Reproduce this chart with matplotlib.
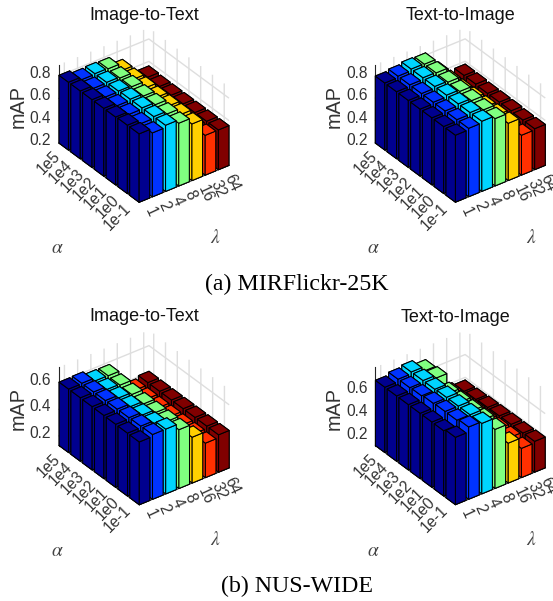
import numpy as np
import matplotlib
matplotlib.use('Agg')
import matplotlib.pyplot as plt
from mpl_toolkits.mplot3d import proj3d

W, H = 553, 601
lambdas = ['1', '2', '4', '8', '16', '32', '64']
alphas = ['1e-1', '1e0', '1e1', '1e2', '1e3', '1e4', '1e5']
colors = ['#00008f', '#0033ff', '#00d5ff', '#80ff80', '#ffd000', '#ff3000', '#800000']

# rows follow alphas (1e-1 ... 1e5), columns follow lambdas
mir_i2t = [[.81, .77, .79, .76, .705, .555, .555],
           [.81, .775, .79, .765, .71, .555, .555],
           [.805, .78, .79, .77, .71, .555, .555],
           [.805, .78, .79, .77, .71, .555, .555],
           [.805, .78, .785, .775, .715, .555, .555],
           [.805, .78, .785, .775, .715, .555, .555],
           [.805, .78, .785, .78, .715, .555, .56]]
mir_t2i = [[.797, .81, .825, .80, .71, .555, .565],
           [.797, .81, .825, .80, .705, .555, .565],
           [.797, .81, .825, .805, .70, .555, .57],
           [.797, .81, .825, .81, .70, .555, .57],
           [.797, .81, .825, .815, .695, .555, .57],
           [.797, .81, .825, .82, .695, .555, .575],
           [.797, .81, .825, .82, .69, .555, .575]]
nus_i2t = [[.598, .613, .613, .568, .471, .386, .408],
           [.599, .611, .591, .566, .436, .391, .408],
           [.600, .609, .588, .566, .426, .391, .408],
           [.601, .608, .586, .566, .426, .391, .408],
           [.602, .607, .586, .571, .426, .391, .408],
           [.603, .606, .584, .576, .426, .391, .408],
           [.603, .606, .583, .581, .426, .391, .408]]
nus_t2i = [[.715, .758, .742, .642, .474, .381, .395],
           [.697, .742, .742, .652, .41, .40, .392],
           [.697, .742, .742, .652, .40, .40, .392],
           [.697, .737, .742, .652, .39, .40, .39],
           [.697, .727, .737, .652, .39, .40, .388],
           [.697, .722, .737, .712, .39, .40, .382],
           [.697, .72, .736, .698, .39, .40, .377]]

panels = [
    dict(v=mir_i2t, t='Image-to-Text', zl=(0.2, 0.9), zt=[.2, .4, .6, .8], corners=[(59, 143.5), (139, 202), (229, 165)],
         tc=(144, 16), m=(18, 106), a=(57, 248), l=(215, 238)),
    dict(v=mir_t2i, t='Text-to-Image', zl=(0.2, 0.9), zt=[.2, .4, .6, .8], corners=[(375.3, 143.3), (456, 202), (545.3, 165)],
         tc=(460, 15), m=(334, 106), a=(373, 248), l=(531, 238)),
    dict(v=nus_i2t, t='Image-to-Text', zl=(0.128, 0.716), zt=[.2, .4, .6], corners=[(59, 446.7), (139.3, 504.3), (229.3, 466.7)],
         tc=(144, 316.7), m=(18, 408), a=(57, 551), l=(215, 540)),
    dict(v=nus_t2i, t='Text-to-Image', zl=(0.125, 0.812), zt=[.2, .4, .6], corners=[(375.3, 446.7), (456, 504.3), (545.3, 466.7)],
         tc=(455, 317), m=(334, 408), a=(373, 551), l=(531, 540)),
]

plt.rcParams['font.family'] = 'Liberation Sans'
plt.rcParams['mathtext.fontset'] = 'stix'
fig = plt.figure(figsize=(W / 100, H / 100), dpi=100)
GREY = '#333333'


def ftext(p, s, **kw):
    fig.text(p[0] / W, 1 - p[1] / H, s, ha='center', va='center', **kw)


def display(ax, x, y, z):
    px, py, _ = proj3d.proj_transform(x, y, z, ax.get_proj())
    return np.array(ax.transData.transform((px, py)))


for p in panels:
    ax = fig.add_axes([0.1, 0.1, 0.4, 0.4], projection='3d', proj_type='ortho', computed_zorder=False)
    ax.view_init(elev=33.4, azim=-126.7)
    ax.set_box_aspect((112, 134, 94), zoom=1)
    vals = np.array(p['v'])
    z0 = p['zl'][0]
    w = 0.8
    order = 0
    for j in range(6, -1, -1):
        for i in range(6, -1, -1):
            ax.bar3d(j - w / 2, i - w / 2, z0, w, w, vals[i, j] - z0, color=colors[j], shade=False,
                     edgecolor='black', linewidth=0.75, zorder=10 + order)
            order += 1
    ax.set_xlim(-0.4, 6.4)
    ax.set_ylim(-0.4, 6.4)
    ax.set_zlim(*p['zl'])
    ax.set_xticks(range(7))
    ax.set_yticks(range(7))
    ax.set_zticks(p['zt'])
    ax.set_xticklabels(lambdas, rotation=-65, ha='left', va='center', rotation_mode='anchor', fontsize=11.2, color=GREY)
    ax.set_yticklabels(alphas, rotation=45, ha='right', va='center', rotation_mode='anchor', fontsize=11.2, color=GREY)
    ax.set_zticklabels(['%.1f' % t for t in p['zt']], fontsize=11.2, color=GREY, ha='center', va='center')
    ax.tick_params(axis='x', pad=-4)
    ax.tick_params(axis='y', pad=-3.5)
    ax.tick_params(axis='z', pad=-0.1)
    for axis in (ax.xaxis, ax.yaxis, ax.zaxis):
        axis.set_pane_color((1, 1, 1, 0))
        axis.pane.set_edgecolor('none')
        axis.line.set_color('#262626')
        axis.line.set_linewidth(0.8)
        axis._axinfo['grid'].update(color='#dedede', linewidth=1.0)
        axis._axinfo['tick'].update(inward_factor=0.0, outward_factor=0.12, linewidth={True: 0.6, False: 0.6})
    ax.grid(True)
    ax.patch.set_alpha(0)
    ax.set_xlim(-0.4, 6.4)
    ax.set_ylim(-0.4, 6.4)
    ax.set_zlim(*p['zl'])

    # fit the axes box so the floor corners land on the reference's corners
    targ = [np.array((c[0], H - c[1])) for c in p['corners']]
    for _ in range(3):
        fig.canvas.draw()
        r = display(ax, 6.4, -0.4, z0)
        l = display(ax, -0.4, 6.4, z0)
        pos = ax.get_position()
        s = (np.linalg.norm(targ[2] - targ[0]) / np.linalg.norm(r - l))
        cur_c = (l + r) / 2
        tgt_c = (targ[0] + targ[2]) / 2
        fx0 = pos.x0 * W
        fy0 = pos.y0 * H
        nw = pos.width * W * s
        nh = pos.height * H * s
        cx = fx0 + pos.width * W / 2
        cy = fy0 + pos.height * H / 2
        new_c = np.array((cx, cy)) + (cur_c - np.array((cx, cy))) * s
        d = tgt_c - new_c
        ax.set_position([(cx - nw / 2 + d[0]) / W, (cy - nh / 2 + d[1]) / H, nw / W, nh / H])

    ftext(p['tc'], p['t'], fontsize=13, color='#111111')
    ftext(p['m'], 'mAP', fontsize=14.3, rotation=90, color=GREY)
    ftext(p['a'], r'$\alpha$', fontsize=14, color='#444444')
    ftext(p['l'], r'$\lambda$', fontsize=14, color='#444444')

ftext((297, 284), '(a) MIRFlickr-25K', fontsize=17.2, family='Liberation Serif', color='black')
ftext((297, 586), '(b) NUS-WIDE', fontsize=17.2, family='Liberation Serif', color='black')
fig.savefig('out.png', dpi=100)
